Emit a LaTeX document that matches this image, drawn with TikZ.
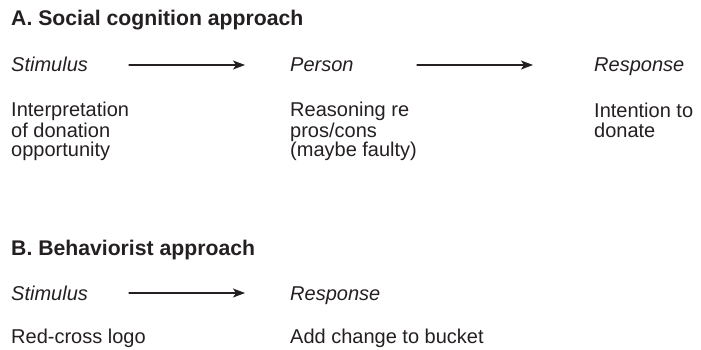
\documentclass[tikz,border=0pt]{standalone}
\usepackage{fontspec}
\setmainfont{Liberation Sans}
\usepackage{tikz}
\usetikzlibrary{arrows.meta}
\definecolor{txtgray}{rgb}{0.14,0.12,0.13}
\tikzstyle{every node}=[font=\fontsize{20}{20}\selectfont,inner sep=0pt,anchor=base west,text=txtgray,align=left]
\tikzstyle{heading}=[font=\fontsize{21.2}{21}\selectfont\bfseries]
\tikzstyle{role}=[font=\fontsize{20}{20}\selectfont\itshape]
\tikzstyle{flow}=[-{Stealth[length=12pt,width=9pt,inset=3pt]},line width=1.3pt,color=txtgray]

\begin{document}
\begin{tikzpicture}[line cap=round,line join=round,x=1pt,y=-1pt]
        \useasboundingbox (0,0) rectangle (701,350);
        % A. social cognition
        \node[heading] (titleA) at (11,26) {A. Social cognition approach};
        \node[role] (stimA) at (11,71.5) {Stimulus};
        \node[role] (persA) at (290,71.5) {Person};
        \node[role] (respA) at (594,71.5) {Response};
        % multi-line nodes sit on their last line
        \node (stimAtxt) at (11,157) {Interpretation\\of donation\\opportunity};
        \node (persAtxt) at (290,157) {Reasoning re\\pros/cons\\(maybe faulty)};
        \node (respAtxt) at (594,137) {Intention to\\donate};
        \coordinate (a1s) at (129,65);
        \coordinate (a1e) at (245,65);
        \coordinate (a2s) at (417,65);
        \coordinate (a2e) at (533,65);
        \draw [flow] (a1s) -- (a1e);
        \draw [flow] (a2s) -- (a2e);
        % B. behaviorist
        \node[heading] (titleB) at (11,255) {B. Behaviorist approach};
        \node[role] (stimB) at (11,300.5) {Stimulus};
        \node[role] (respB) at (290,300.5) {Response};
        \node (stimBtxt) at (11,343) {Red-cross logo};
        \node (respBtxt) at (290,343) {Add change to bucket};
        \coordinate (b1s) at (129,293);
        \coordinate (b1e) at (245,293);
        \draw [flow] (b1s) -- (b1e);
\end{tikzpicture}
\end{document}
